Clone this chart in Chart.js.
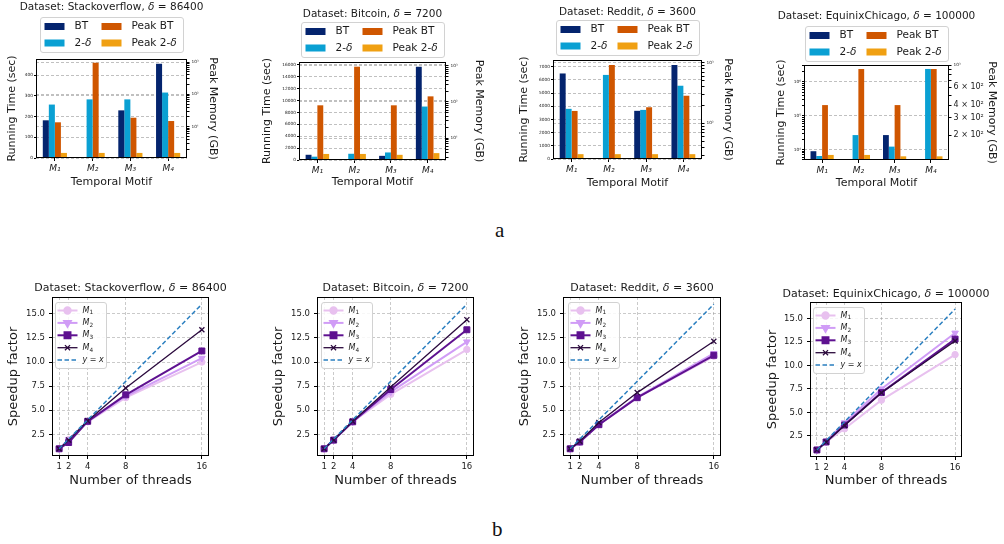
<!DOCTYPE html>
<html>
<head>
<meta charset="utf-8">
<title>Temporal motif benchmarks</title>
<script src="https://cdn.jsdelivr.net/npm/chart.js@4.4.1/dist/chart.umd.min.js"></script>
<style>
  html, body { margin: 0; padding: 0; background: #fff; }
  #fig { position: relative; width: 1004px; height: 544px; overflow: hidden; background: #fff; }
  #fig canvas { position: absolute; }
  .tag { position: absolute; font-family: 'Liberation Serif', 'DejaVu Serif', serif; font-size: 21px; color: #111; line-height: 1; }
</style>
</head>
<body>
<div id="fig">
  <canvas id="run-so"  width="250" height="200" style="left:0px;top:0px"></canvas>
  <canvas id="run-btc" width="250" height="200" style="left:250px;top:0px"></canvas>
  <canvas id="run-rd"  width="250" height="200" style="left:500px;top:0px"></canvas>
  <canvas id="run-eq"  width="254" height="200" style="left:750px;top:0px"></canvas>
  <canvas id="spd-so"  width="250" height="225" style="left:0px;top:270px"></canvas>
  <canvas id="spd-btc" width="250" height="225" style="left:250px;top:270px"></canvas>
  <canvas id="spd-rd"  width="250" height="225" style="left:500px;top:270px"></canvas>
  <canvas id="spd-eq"  width="254" height="225" style="left:750px;top:270px"></canvas>
  <div class="tag" style="left:495px;top:220px">a</div>
  <div class="tag" style="left:492px;top:519px">b</div>
</div>
<script>
const FONT = "'DejaVu Sans', sans-serif";
Chart.defaults.font.family = FONT;
Chart.defaults.color = '#1a1a1a';
Chart.defaults.animation = false;

// ---------- datasets ----------
const datasetNames = ['Stackoverflow', 'Bitcoin', 'Reddit', 'EquinixChicago'];
const deltas = [86400, 7200, 3600, 100000];
const motifs = ['M₁', 'M₂', 'M₃', 'M₄'];

// ---------- running time (sec) and peak memory (GB) ----------
const soTimeBT   = [182, null, 230, 455];
const soTime2d   = [258, 283, 283, 316];
const soPeakBT   = [13.7, 950, 19, 15];
const soPeak2d   = [1.55, 1.55, 1.55, 1.55];
const soTimeTicks = [0, 100, 200, 300, 400];

const btcTimeBT  = [880, null, 700, 15700];
const btcTime2d  = [560, 1050, 1270, 9000];
const btcPeakBT  = [81, 940, 81, 143];
const btcPeak2d  = [3.7, 3.7, 3.5, 3.9];
const btcTimeTicks = [0, 2000, 4000, 6000, 8000, 10000, 12000, 14000, 16000];

const rdTimeBT   = [6480, null, 3650, 7120];
const rdTime2d   = [3800, 6370, 3720, 5550];
const rdPeakBT   = [160, 916, 184, 285];
const rdPeak2d   = [31, 31, 31, 31];
const rdTimeTicks = [0, 1000, 2000, 3000, 4000, 5000, 6000, 7000];

const eqTimeBT   = [9000, null, 27000, null];
const eqTime2d   = [6500, 27000, 12300, 2430000];
const eqPeakBT   = [400, 912, 400, 912];
const eqPeak2d   = [128, 128, 124, 124];
const eqPeakLabelled = [200, 300, 400, 600];

// ---------- speedup factor vs number of threads ----------
const threads = [1, 2, 4, 8, 16];
const speedupTicks = [2.5, 5, 7.5, 10, 12.5, 15];
const identityLine = [1, 16];

const soSpeedM1  = [1, 1.95, 3.8, 6.3, 10.0];
const soSpeedM2  = [1, 1.95, 3.85, 6.45, 10.4];
const soSpeedM3  = [1, 1.65, 3.85, 6.6, 11.15];
const soSpeedM4  = [1, 1.9, 3.9, 7.3, 13.35];

const btcSpeedM1 = [1, 1.9, 3.8, 6.65, 11.3];
const btcSpeedM2 = [1, 1.9, 3.8, 6.9, 12.1];
const btcSpeedM3 = [1, 1.9, 3.8, 7.15, 13.35];
const btcSpeedM4 = [1, 1.92, 3.85, 7.4, 14.4];

const rdSpeedM1  = [1, 1.7, 3.5, 6.3, 10.6];
const rdSpeedM2  = [1, 1.72, 3.55, 6.35, 10.9];
const rdSpeedM3  = [1, 1.7, 3.5, 6.3, 10.7];
const rdSpeedM4  = [1, 1.78, 3.72, 6.83, 12.15];

const eqSpeedM1  = [1, 1.85, 3.25, 6.3, 11.15];
const eqSpeedM2  = [1, 1.9, 3.9, 7.5, 13.45];
const eqSpeedM3  = [1, 1.85, 3.65, 7.1, 12.8];
const eqSpeedM4  = [1, 1.85, 3.6, 7.1, 12.6];

// ---------- styling ----------
const BAR = { bt: '#04246e', td: '#0aa0d3', pbt: '#cf5600', ptd: '#f0a012' };
const GRID_BAR = 'rgba(150,150,150,0.6)';
const GRID_LINE = 'rgba(150,150,150,0.5)';
const CLEAR = 'rgba(0,0,0,0)';
const MOTIF_STYLE = [
  { color: '#e8c1ef', lw: 2,   style: 'circle',   r: 3.2, rot: 0,   bw: 1 },
  { color: '#d09cf6', lw: 2,   style: 'triangle', r: 3.8, rot: 180, bw: 1 },
  { color: '#5e1190', lw: 2,   style: 'rect',     r: 4.2, rot: 0,   bw: 1 },
  { color: '#2b0a3d', lw: 1.3, style: 'crossRot', r: 3.6, rot: 0,   bw: 1.3 },
];
const IDENTITY_COLOR = '#2a7fc0';

// ---------- helpers ----------
const SUP = { '0': '⁰', '1': '¹', '2': '²', '3': '³', '4': '⁴', '5': '⁵', '6': '⁶', '7': '⁷', '8': '⁸', '9': '⁹', '-': '⁻' };
const sup = n => String(n).split('').map(c => SUP[c]).join('');
const isPow10 = v => { const e = Math.log10(v); return Math.abs(e - Math.round(e)) < 1e-9; };
const pow10Label = v => '10' + sup(Math.round(Math.log10(v)));
function logTickValues(min, max) {
  const out = [];
  for (let e = Math.floor(Math.log10(min)); e <= Math.ceil(Math.log10(max)); e++) {
    for (let m = 1; m < 10; m++) {
      const v = m * Math.pow(10, e);
      if (v >= min && v <= max) out.push(v);
    }
  }
  return out;
}

// draws a run of text pieces (plain / italic / subscript) centred on x
function drawRich(ctx, parts, x, y, size, align) {
  const fontOf = p => `${p.i ? 'italic ' : ''}${p.sub ? size * 0.72 : size}px ${FONT}`;
  const widths = parts.map(p => { ctx.font = fontOf(p); return ctx.measureText(p.t).width; });
  const total = widths.reduce((a, b) => a + b, 0);
  let cx = align === 'left' ? x : x - total / 2;
  ctx.textAlign = 'left';
  ctx.textBaseline = 'middle';
  parts.forEach((p, k) => {
    ctx.font = fontOf(p);
    ctx.fillText(p.t, cx, y + (p.sub ? size * 0.3 : 0));
    cx += widths[k];
  });
}
const titleParts = (name, delta) => [{ t: `Dataset: ${name}, ` }, { t: 'δ', i: true }, { t: ` = ${delta}` }];

function roundBox(ctx, x, y, w, h, r) {
  ctx.beginPath();
  ctx.moveTo(x + r, y);
  ctx.lineTo(x + w - r, y); ctx.quadraticCurveTo(x + w, y, x + w, y + r);
  ctx.lineTo(x + w, y + h - r); ctx.quadraticCurveTo(x + w, y + h, x + w - r, y + h);
  ctx.lineTo(x + r, y + h); ctx.quadraticCurveTo(x, y + h, x, y + h - r);
  ctx.lineTo(x, y + r); ctx.quadraticCurveTo(x, y, x + r, y);
  ctx.closePath();
}

const framePlugin = {
  id: 'frame',
  afterDraw(chart) {
    const { ctx, chartArea: a } = chart;
    ctx.save();
    ctx.strokeStyle = '#000';
    ctx.lineWidth = 1;
    ctx.strokeRect(Math.round(a.left) + 0.5, Math.round(a.top) + 0.5,
                   Math.round(a.right - a.left) - 1, Math.round(a.bottom - a.top) - 1);
    ctx.restore();
  }
};

// ---------- running time / peak memory panels ----------
const BAR_LEGEND = [
  { parts: [{ t: 'BT' }], color: BAR.bt, col: 0, row: 0 },
  { parts: [{ t: '2-' }, { t: 'δ', i: true }], color: BAR.td, col: 0, row: 1 },
  { parts: [{ t: 'Peak BT' }], color: BAR.pbt, col: 1, row: 0 },
  { parts: [{ t: 'Peak 2-' }, { t: 'δ', i: true }], color: BAR.ptd, col: 1, row: 1 },
];

function barHeader(cfg) {
  return {
    id: 'barHeader',
    afterDraw(chart) {
      const { ctx, chartArea: a } = chart;
      const cx = (a.left + a.right) / 2;
      ctx.save();
      ctx.fillStyle = '#1a1a1a';
      drawRich(ctx, titleParts(cfg.name, cfg.delta), cx, cfg.titleY, 10.5);
      const w = 143, h = 35, x0 = Math.round(cx - w / 2) + 0.5, y0 = cfg.legendTop + 0.5;
      roundBox(ctx, x0, y0, w, h, 2.5);
      ctx.fillStyle = 'rgba(255,255,255,0.85)';
      ctx.fill();
      ctx.strokeStyle = '#d2d2d2';
      ctx.lineWidth = 1;
      ctx.stroke();
      BAR_LEGEND.forEach(e => {
        const rowY = y0 + 9 + e.row * 16.5;
        const hx = x0 + 4 + e.col * 57;
        ctx.fillStyle = e.color;
        ctx.fillRect(hx, rowY - 3.5, 20, 7);
        ctx.fillStyle = '#1a1a1a';
        drawRich(ctx, e.parts, hx + 30, rowY, 10.5, 'left');
      });
      ctx.restore();
    }
  };
}

function barPanel(id, cfg) {
  const el = document.getElementById(id);
  const W = el.width, H = el.height, A = cfg.area;
  const leftLog = cfg.timeLog === true;
  const leftTickValues = leftLog ? logTickValues(cfg.timeMin, cfg.timeMax) : cfg.timeTicks;
  const rightTickValues = logTickValues(cfg.peakMin, cfg.peakMax);
  new Chart(el, {
    type: 'bar',
    data: {
      labels: motifs,
      datasets: [
        { label: 'BT', data: cfg.timeBT, backgroundColor: BAR.bt, yAxisID: 'y' },
        { label: '2-δ', data: cfg.time2d, backgroundColor: BAR.td, yAxisID: 'y' },
        { label: 'Peak BT', data: cfg.peakBT, backgroundColor: BAR.pbt, yAxisID: 'y2' },
        { label: 'Peak 2-δ', data: cfg.peak2d, backgroundColor: BAR.ptd, yAxisID: 'y2' },
      ]
    },
    options: {
      responsive: false,
      animation: false,
      events: [],
      layout: { autoPadding: false, padding: { left: 0, right: 0, top: A.t, bottom: 0 } },
      datasets: { bar: { barPercentage: 1, categoryPercentage: 0.64, borderWidth: 0 } },
      plugins: { legend: { display: false }, tooltip: { enabled: false }, title: { display: false } },
      scales: {
        x: {
          type: 'category',
          offset: true,
          grid: { display: true, offset: false, drawOnChartArea: false, drawTicks: true, tickLength: 3, tickColor: '#000' },
          border: { display: false },
          ticks: { font: { size: 9, style: 'italic' }, padding: 2, maxRotation: 0, autoSkip: false },
          title: { display: true, text: 'Temporal Motif', font: { size: 11 },
                   padding: { top: 0, bottom: H - cfg.xTitleY - 6.6 } },
          afterFit: s => { s.height = H - A.b; }
        },
        y: {
          type: leftLog ? 'logarithmic' : 'linear',
          position: 'left',
          min: cfg.timeMin,
          max: cfg.timeMax,
          grid: {
            color: c => (leftLog && !isPow10(c.tick.value)) ? CLEAR : GRID_BAR,
            tickColor: '#000', tickLength: 2, lineWidth: 1
          },
          border: { display: false, dash: [3, 2] },
          ticks: {
            font: { size: 4.3 }, padding: 1, autoSkip: false,
            callback: v => leftLog ? (isPow10(v) ? pow10Label(v) : '') : String(v)
          },
          afterBuildTicks: s => { s.ticks = leftTickValues.map(v => ({ value: v })); },
          title: { display: true, text: 'Running Time (sec)', font: { size: 11 },
                   padding: { top: cfg.yTitleX - 6.6, bottom: 0 } },
          afterFit: s => { s.width = A.l; }
        },
        y2: {
          type: 'logarithmic',
          position: 'right',
          min: cfg.peakMin,
          max: cfg.peakMax,
          grid: {
            color: c => (cfg.peakGrid && isPow10(c.tick.value)) ? GRID_BAR : CLEAR,
            tickColor: '#000', tickLength: 2.5, lineWidth: 1
          },
          border: { display: false, dash: [3, 2] },
          ticks: {
            autoSkip: false, padding: 2,
            font: c => ({ size: (c.tick && !isPow10(c.tick.value)) ? 8 : 4.3 }),
            callback: v => {
              if (isPow10(v)) return pow10Label(v);
              const labelled = cfg.peakLabelled || [];
              if (labelled.includes(v)) {
                const e = Math.floor(Math.log10(v));
                return `${Math.round(v / Math.pow(10, e))} × 10${sup(e)}`;
              }
              return '';
            }
          },
          afterBuildTicks: s => { s.ticks = rightTickValues.map(v => ({ value: v })); },
          title: { display: true, text: 'Peak Memory (GB)', font: { size: 11 },
                   padding: { top: W - cfg.y2TitleX - 6.6, bottom: 0 } },
          afterFit: s => { s.width = W - A.r; }
        }
      }
    },
    plugins: [framePlugin, barHeader(cfg)]
  });
}

barPanel('run-so', {
  name: datasetNames[0], delta: deltas[0],
  timeBT: soTimeBT, time2d: soTime2d, peakBT: soPeakBT, peak2d: soPeak2d,
  timeMin: 0, timeMax: 478, timeTicks: soTimeTicks,
  peakMin: 1.08, peakMax: 1240, peakGrid: true,
  area: { l: 36, t: 59, r: 187, b: 158 },
  titleY: 7.5, legendTop: 17, yTitleX: 12, y2TitleX: 213, xTitleY: 182
});
barPanel('run-btc', {
  name: datasetNames[1], delta: deltas[1],
  timeBT: btcTimeBT, time2d: btcTime2d, peakBT: btcPeakBT, peak2d: btcPeak2d,
  timeMin: 0, timeMax: 16500, timeTicks: btcTimeTicks,
  peakMin: 2.52, peakMax: 1265, peakGrid: true,
  area: { l: 49, t: 62, r: 196, b: 160 },
  titleY: 14, legendTop: 22, yTitleX: 17.5, y2TitleX: 229, xTitleY: 181.7
});
barPanel('run-rd', {
  name: datasetNames[2], delta: deltas[2],
  timeBT: rdTimeBT, time2d: rdTime2d, peakBT: rdPeakBT, peak2d: rdPeak2d,
  timeMin: 0, timeMax: 7500, timeTicks: rdTimeTicks,
  peakMin: 25.8, peakMax: 1107, peakGrid: true,
  area: { l: 53, t: 60, r: 202, b: 159 },
  titleY: 12.7, legendTop: 20, yTitleX: 24, y2TitleX: 227.5, xTitleY: 182.7
});
barPanel('run-eq', {
  name: datasetNames[3], delta: deltas[3],
  timeBT: eqTimeBT, time2d: eqTime2d, peakBT: eqPeakBT, peak2d: eqPeak2d,
  timeLog: true, timeMin: 4950, timeMax: 3180000,
  peakMin: 114, peakMax: 1000, peakGrid: false, peakLabelled: eqPeakLabelled,
  area: { l: 54, t: 65, r: 199, b: 160 },
  titleY: 16.7, legendTop: 26, yTitleX: 31, y2TitleX: 242, xTitleY: 182.7
});

// ---------- speedup panels ----------
const LINE_LEGEND = [
  { parts: [{ t: 'M', i: true }, { t: '1', sub: true }], motif: 0 },
  { parts: [{ t: 'M', i: true }, { t: '2', sub: true }], motif: 1 },
  { parts: [{ t: 'M', i: true }, { t: '3', sub: true }], motif: 2 },
  { parts: [{ t: 'M', i: true }, { t: '4', sub: true }], motif: 3 },
  { parts: [{ t: 'y', i: true }, { t: ' = ' }, { t: 'x', i: true }], motif: -1 },
];

function drawMarker(ctx, st, x, y) {
  ctx.fillStyle = st.color;
  ctx.strokeStyle = st.color;
  const opts = { pointStyle: st.style, rotation: st.rot, radius: st.r, borderWidth: st.bw };
  if (Chart.helpers && Chart.helpers.drawPoint) {
    Chart.helpers.drawPoint(ctx, opts, x, y);
  } else {
    ctx.beginPath(); ctx.arc(x, y, st.r, 0, Math.PI * 2); ctx.fill();
  }
}

function lineHeader(cfg) {
  return {
    id: 'lineHeader',
    afterDraw(chart) {
      const { ctx, chartArea: a } = chart;
      ctx.save();
      ctx.fillStyle = '#1a1a1a';
      drawRich(ctx, titleParts(cfg.name, cfg.delta), (a.left + a.right) / 2, cfg.titleY, 11);
      const x0 = cfg.legend.x + 0.5, y0 = cfg.legend.y + 0.5, w = 51, h = 66;
      roundBox(ctx, x0, y0, w, h, 2.5);
      ctx.fillStyle = 'rgba(255,255,255,0.85)';
      ctx.fill();
      ctx.strokeStyle = '#d2d2d2';
      ctx.lineWidth = 1;
      ctx.stroke();
      LINE_LEGEND.forEach((e, k) => {
        const ry = y0 + 8 + k * 12.4;
        ctx.save();
        if (e.motif >= 0) {
          const st = MOTIF_STYLE[e.motif];
          ctx.strokeStyle = st.color;
          ctx.lineWidth = st.lw;
          ctx.beginPath(); ctx.moveTo(x0 + 2, ry); ctx.lineTo(x0 + 22, ry); ctx.stroke();
          drawMarker(ctx, st, x0 + 12, ry);
        } else {
          ctx.strokeStyle = IDENTITY_COLOR;
          ctx.lineWidth = 1.5;
          ctx.setLineDash([4.5, 2.5]);
          ctx.beginPath(); ctx.moveTo(x0 + 2, ry); ctx.lineTo(x0 + 22, ry); ctx.stroke();
        }
        ctx.restore();
        ctx.fillStyle = '#1a1a1a';
        drawRich(ctx, e.parts, x0 + 27, ry, 8, 'left');
      });
      ctx.restore();
    }
  };
}

function speedPanel(id, cfg) {
  const el = document.getElementById(id);
  const W = el.width, H = el.height, A = cfg.area;
  const series = [cfg.m1, cfg.m2, cfg.m3, cfg.m4];
  const datasets = series.map((arr, i) => {
    const st = MOTIF_STYLE[i];
    return {
      label: 'M' + (i + 1),
      data: threads.map((t, k) => ({ x: t, y: arr[k] })),
      borderColor: st.color,
      backgroundColor: st.color,
      borderWidth: st.lw,
      pointStyle: st.style,
      pointRadius: st.r,
      pointRotation: st.rot,
      pointBorderWidth: st.bw,
      pointBorderColor: st.color,
      pointBackgroundColor: st.color,
      tension: 0,
      order: 4 - i
    };
  });
  datasets.push({
    label: 'y = x',
    data: identityLine.map(v => ({ x: v, y: v })),
    borderColor: IDENTITY_COLOR,
    borderWidth: 1.5,
    borderDash: [4.5, 2.5],
    pointRadius: 0,
    tension: 0,
    order: 0
  });
  new Chart(el, {
    type: 'line',
    data: { datasets },
    options: {
      responsive: false,
      animation: false,
      events: [],
      layout: { autoPadding: false, padding: { left: 0, right: W - A.r, top: A.t, bottom: 0 } },
      plugins: { legend: { display: false }, tooltip: { enabled: false }, title: { display: false } },
      scales: {
        x: {
          type: 'linear', min: 0.25, max: 16.75,
          grid: { color: GRID_LINE, tickColor: '#000', tickLength: 3, lineWidth: 1 },
          border: { display: false, dash: [3, 2] },
          ticks: { font: { size: 8.5 }, padding: 3, autoSkip: false, maxRotation: 0, callback: v => String(v) },
          afterBuildTicks: s => { s.ticks = threads.map(v => ({ value: v })); },
          title: { display: true, text: 'Number of threads', font: { size: 13 },
                   padding: { top: 0, bottom: H - cfg.xTitleY - 7.8 } },
          afterFit: s => { s.height = H - A.b; }
        },
        y: {
          type: 'linear', min: 0.25, max: 16.75,
          grid: { color: GRID_LINE, tickColor: '#000', tickLength: 3, lineWidth: 1 },
          border: { display: false, dash: [3, 2] },
          ticks: { font: { size: 8.5 }, padding: 4, autoSkip: false, callback: v => v.toFixed(1) },
          afterBuildTicks: s => { s.ticks = speedupTicks.map(v => ({ value: v })); },
          title: { display: true, text: 'Speedup factor', font: { size: 13 },
                   padding: { top: cfg.yTitleX - 7.8, bottom: 0 } },
          afterFit: s => { s.width = A.l; }
        }
      }
    },
    plugins: [framePlugin, lineHeader(cfg)]
  });
}

speedPanel('spd-so', {
  name: datasetNames[0], delta: deltas[0],
  m1: soSpeedM1, m2: soSpeedM2, m3: soSpeedM3, m4: soSpeedM4,
  area: { l: 52, t: 27, r: 209, b: 186 },
  titleY: 18.3, yTitleX: 13.3, xTitleY: 210.7, legend: { x: 55, y: 32 }
});
speedPanel('spd-btc', {
  name: datasetNames[1], delta: deltas[1],
  m1: btcSpeedM1, m2: btcSpeedM2, m3: btcSpeedM3, m4: btcSpeedM4,
  area: { l: 67, t: 27, r: 224, b: 186 },
  titleY: 18, yTitleX: 29, xTitleY: 210.7, legend: { x: 71, y: 32 }
});
speedPanel('spd-rd', {
  name: datasetNames[2], delta: deltas[2],
  m1: rdSpeedM1, m2: rdSpeedM2, m3: rdSpeedM3, m4: rdSpeedM4,
  area: { l: 63, t: 27, r: 221, b: 186 },
  titleY: 18, yTitleX: 25, xTitleY: 210.7, legend: { x: 68, y: 32 }
});
speedPanel('spd-eq', {
  name: datasetNames[3], delta: deltas[3],
  m1: eqSpeedM1, m2: eqSpeedM2, m3: eqSpeedM3, m4: eqSpeedM4,
  area: { l: 60, t: 32, r: 212, b: 187 },
  titleY: 24.3, yTitleX: 23, xTitleY: 210.7, legend: { x: 63, y: 37 }
});
</script>
</body>
</html>
